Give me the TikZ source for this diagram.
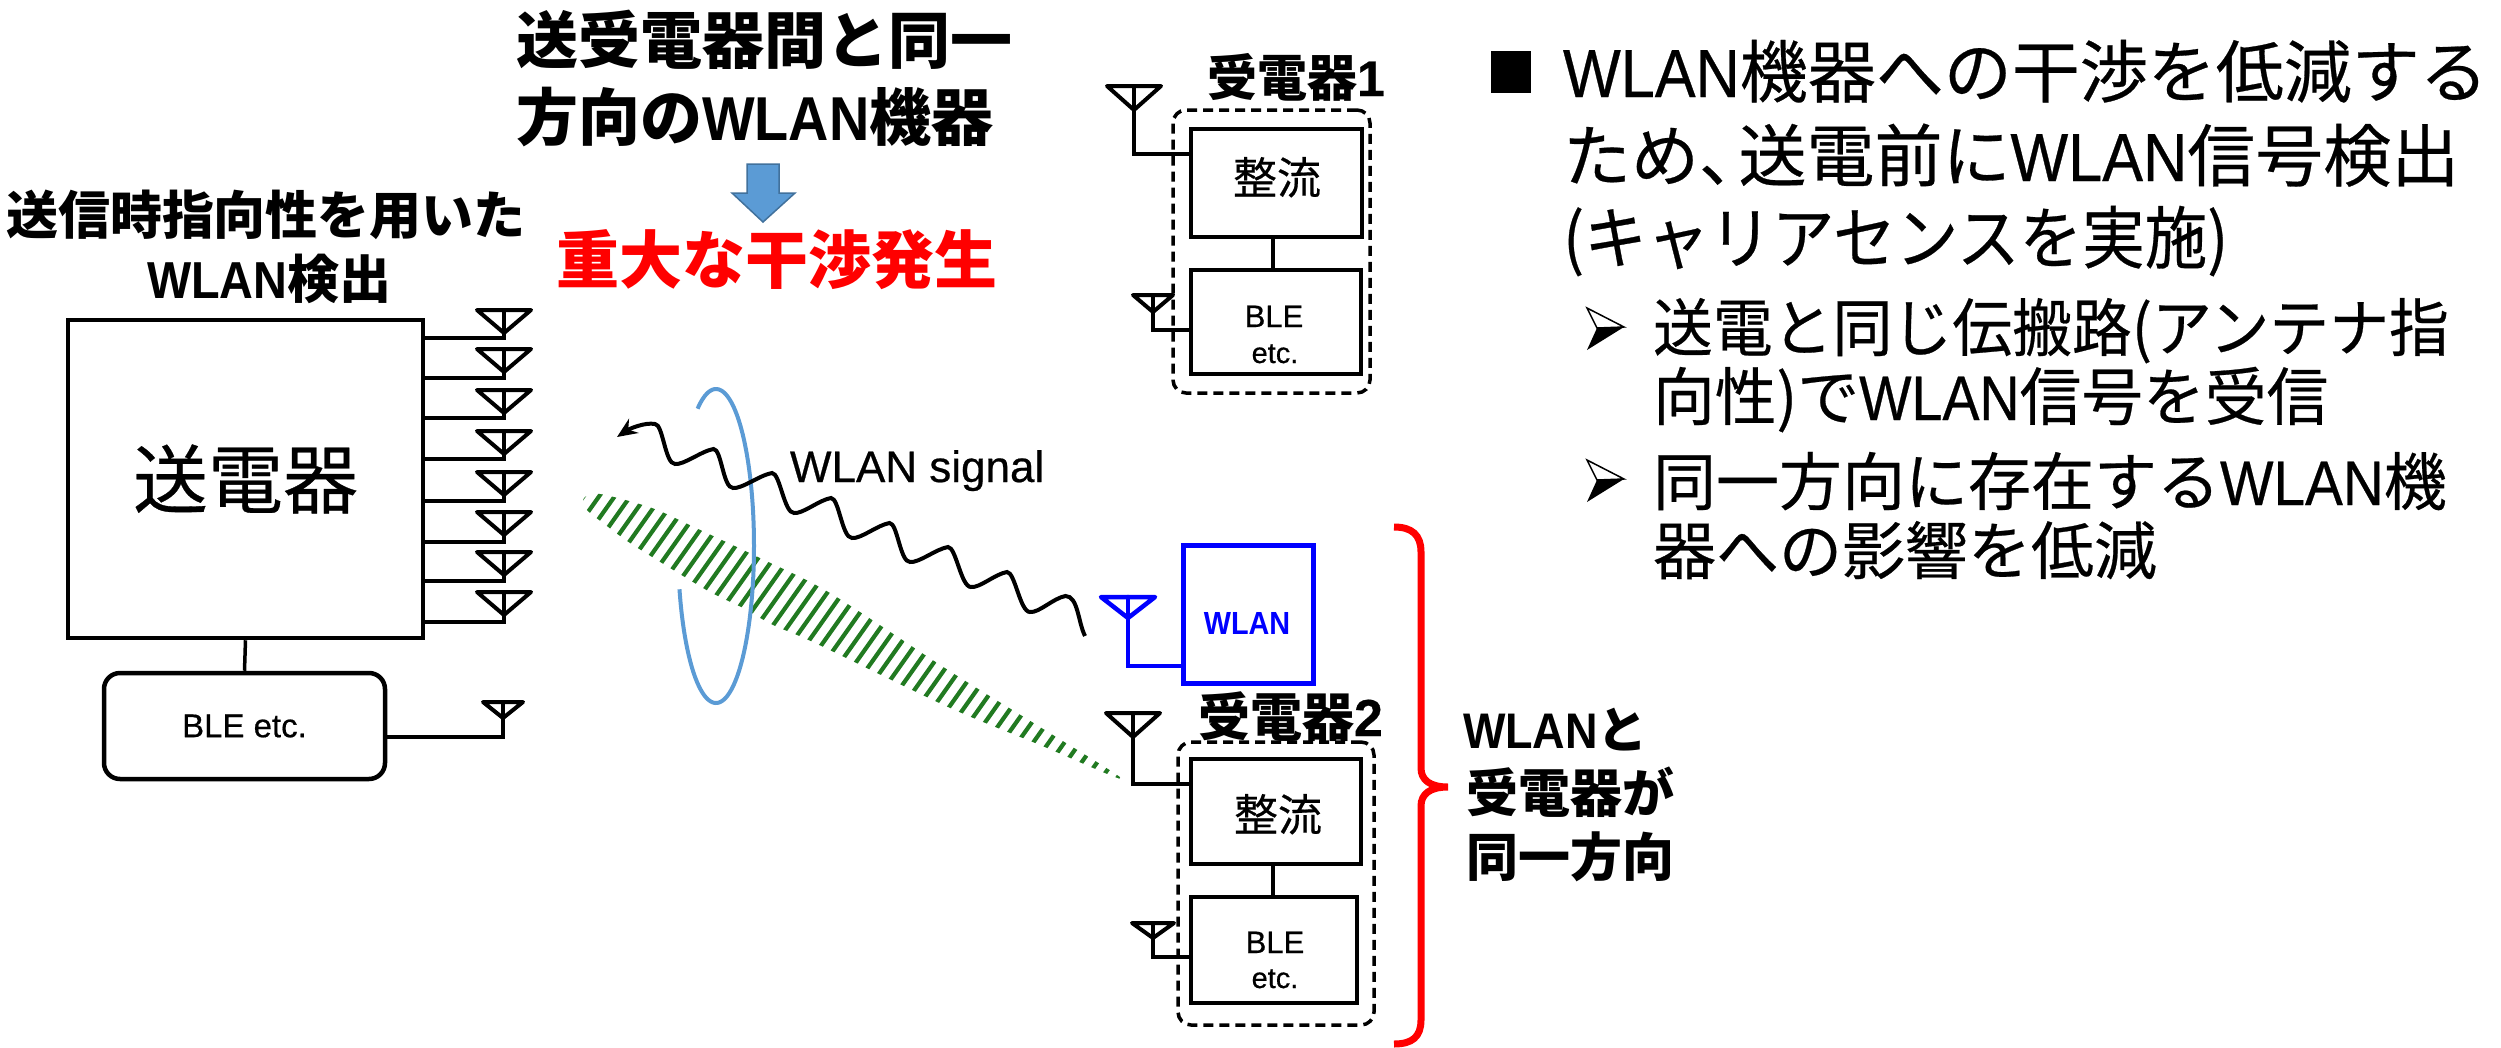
\documentclass[tikz,border=0pt]{standalone}
\usepackage{fontspec}
\usepackage{graphicx}
\setmainfont{Noto Sans CJK JP}
\newfontfamily\jp[FakeBold=0.4]{Noto Sans CJK JP}
\newfontfamily\lat[FakeStretch=0.9,FakeBold=0.4]{Liberation Sans}
\newfontfamily\latb[FakeStretch=0.9]{Liberation Sans}
\newfontfamily\latn[FakeBold=0.5]{Liberation Sans}
\usetikzlibrary{arrows.meta}
\definecolor{skyb}{HTML}{5B9BD5}
\definecolor{skyd}{HTML}{41719C}
\definecolor{hatchg}{HTML}{217A21}
\newcommand{\fz}[1]{\fontsize{#1}{#1}\selectfont}
\newcommand{\Wl}{{\lat WLAN}}
\newcommand{\Wb}{{\latb WLAN}}
\newcommand{\antenna}[6]{%
  \draw[#6] ({#2-#4},#3) -- ({#2+#4},#3) -- (#2,#5) -- cycle;
  \draw[#6] (#2,#3) -- (#2,#5);
  \coordinate (#1) at (#2,#5);}
\tikzset{
  x=1pt,y=-1pt,
  box/.style={draw=black,line width=4.5pt,fill=white,inner sep=0pt,line join=miter},
  dashbox/.style={draw=black,line width=3.5pt,rounded corners=13pt,dash pattern=on 10pt off 6pt,inner sep=0pt},
  wire/.style={draw=black,line width=3.5pt,line join=miter},
  antbig/.style={draw=black,line width=4pt,line join=round,line cap=round},
  antblue/.style={draw=blue,line width=4.5pt,line join=round,line cap=round},
  lbl/.style={anchor=base west,inner sep=0pt,outer sep=0pt,text=black},
  clbl/.style={anchor=base,inner sep=0pt,outer sep=0pt,text=black},
}
\begin{document}
\begin{tikzpicture}
\useasboundingbox[fill=white] (0,0) rectangle (2501,1047);

% heading texts
\node[lbl] (t1) at (516,63) {\fz{62}\bfseries 送受電器間と同一};
\node[lbl] (t2) at (516,140) {\fz{62}\bfseries 方向の\Wb 機器};
\draw[fill=skyb,draw=skyd,line width=1.5pt] (747,164) -- (779,164) -- (779,193) -- (795,193) -- (763,222) -- (732,193) -- (747,193) -- cycle;
\node[lbl,text=red] (t3) at (556,283) {\fz{63}\bfseries 重大な干渉発生};
\node[lbl] (t4) at (6,234) {\fz{52}\bfseries 送信時指向性を用いた};
\node[lbl] (t5) at (147,298) {\fz{52}\bfseries \Wb 検出};

% transmitter
\node[box,minimum width=355pt,minimum height=318pt] (tx) at (245.5,479) {\fz{75}\jp 送電器};
\node[box,rounded corners=16pt,minimum width=281pt,minimum height=106pt] (txb) at (244.5,726) {\fz{33}\latn BLE etc.};
\draw[wire] (tx.south) -- (txb.north);
\foreach \i/\top/\foot in {1/310/338,2/349/378,3/390/418,4/431/459,5/472/501,6/512/542,7/552/581,8/592/622}{
  \antenna{a\i}{504}{\top}{27}{\top+23}{antbig}
  \coordinate (f\i) at (504,\foot);
  \draw[wire] (a\i) -- (f\i) -- (tx.east |- f\i);
}
\antenna{ab}{503}{702}{20}{718}{antbig}
\coordinate (fb) at (503,737);
\draw[wire] (ab) -- (fb) -- (txb.east |- fb);

% hatched beam
\begin{scope}
\clip plot[smooth cycle] coordinates {(584,498) (600,494) (652,508) (696,528) (760,558) (830,593) (948,670) (1040,727) (1122,779) (1040,745) (948,707) (815,643) (773,625) (743,608) (710,592) (670,568) (630,543) (603,523) (586,509)};
\foreach \k in {0,...,48}{
  \pgfmathsetmacro{\c}{934.9+15.6*\k}
  \draw[hatchg,line width=4.2pt] ({\c-0.708*450},450) -- ({\c-0.708*830},830);
}
\end{scope}

% rotation ellipse
\draw[skyb,line width=4pt] plot[domain=241:524,samples=120] ({716+38*cos(\x)},{546+157*sin(\x)});

% WLAN signal
\coordinate (ws) at (1085,636);
\coordinate (we) at (617,437);
\draw[black,line width=4pt,-{Stealth[length=20pt,width=17pt]}] (ws)
 .. controls (1078,622) and (1078,596) .. (1065.5,596)
 .. controls +(-12,2) and +(9,1) .. (1030,612)
 .. controls +(-10,0) and +(8,0) .. (1007,572)
 .. controls +(-12,2) and +(9,1) .. (971,587)
 .. controls +(-10,0) and +(8,0) .. (948,547)
 .. controls +(-12,2) and +(9,1) .. (910,562)
 .. controls +(-10,0) and +(8,0) .. (889.5,523)
 .. controls +(-12,2) and +(9,1) .. (852,538)
 .. controls +(-10,0) and +(8,0) .. (831,498)
 .. controls +(-12,2) and +(9,1) .. (794,513)
 .. controls +(-10,0) and +(8,0) .. (772,473)
 .. controls +(-12,2) and +(9,1) .. (733,488)
 .. controls +(-10,0) and +(8,0) .. (713.5,449)
 .. controls +(-12,2) and +(9,1) .. (675,464)
 .. controls +(-10,0) and +(8,0) .. (655,424)
 .. controls +(-10,-2) and +(12,-8) .. (we);
\node[lbl] (wsig) at (790,482) {\fz{44}\latn WLAN signal};

% WLAN device
\node[box,draw=blue,line width=5pt,minimum width=130pt,minimum height=138pt] (wl) at (1248,614) {};
\node[clbl,text=blue] (wlt) at (1247,634) {\fz{32}\latb\bfseries WLAN};
\antenna{aw}{1128}{597}{27}{618}{antblue}
\coordinate (fw) at (1128,666);
\draw[blue,line width=4.5pt,line join=miter] (aw) -- (fw) -- (wl.west |- fw);

% receiver 1
\node[lbl] (r1l) at (1207,96) {\fz{50}\bfseries 受電器{\latn 1}};
\node[dashbox,minimum width=197pt,minimum height=283pt] (r1) at (1271.5,251.5) {};
\node[box,minimum width=171pt,minimum height=108pt] (r1a) at (1276.5,183) {};
\node[clbl] (r1at) at (1277,194) {\fz{44}\jp 整流};
\node[box,minimum width=170pt,minimum height=104pt] (r1b) at (1276,322) {};
\node[clbl] (r1bt) at (1274,327) {\fz{31}\latn BLE};
\node[clbl] (r1bu) at (1275,363) {\fz{29}\latn etc.};
\coordinate (c1) at (1273,237);
\draw[wire] (c1) -- (c1 |- r1b.north);
\antenna{a11}{1134}{86}{27}{110}{antbig}
\coordinate (f11) at (1134,154);
\draw[wire] (a11) -- (f11) -- (r1a.west |- f11);
\antenna{a12}{1153}{295}{20}{312}{antbig}
\coordinate (f12) at (1153,330);
\draw[wire] (a12) -- (f12) -- (r1b.west |- f12);

% receiver 2
\node[lbl] (r2l) at (1198,736) {\fz{52}\bfseries 受電器{\latn 2}};
\node[dashbox,minimum width=196pt,minimum height=283pt] (r2) at (1276,883.5) {};
\node[box,minimum width=170pt,minimum height=105pt] (r2a) at (1276,811.5) {};
\node[clbl] (r2at) at (1278,831) {\fz{44}\jp 整流};
\node[box,minimum width=166pt,minimum height=106pt] (r2b) at (1274,950) {};
\node[clbl] (r2bt) at (1275,953) {\fz{31}\latn BLE};
\node[clbl] (r2bu) at (1275,988) {\fz{29}\latn etc.};
\coordinate (c2) at (1273,864);
\draw[wire] (c2) -- (c2 |- r2b.north);
\antenna{a21}{1133}{713}{27}{737}{antbig}
\coordinate (f21) at (1133,784);
\draw[wire] (a21) -- (f21) -- (r2a.west |- f21);
\antenna{a22}{1153}{923}{21}{938}{antbig}
\coordinate (f22) at (1153,957);
\draw[wire] (a22) -- (f22) -- (r2b.west |- f22);

% brace
\draw[red,line width=7pt,line join=miter] (1394,527) .. controls (1412,527) and (1421,535) .. (1421,552) -- (1421,768) .. controls (1421,780) and (1430,787) .. (1448,787) .. controls (1430,787) and (1421,794) .. (1421,806) -- (1421,1020) .. controls (1421,1037) and (1412,1044) .. (1394,1044);
\node[lbl] (b1) at (1463,748) {\fz{50}\bfseries \Wb と};
\node[lbl] (b2) at (1466,812) {\fz{52}\bfseries 受電器が};
\node[lbl] (b3) at (1466,876) {\fz{52}\bfseries 同一方向};

% right text
\node[fill=black,inner sep=0pt,minimum width=40pt,minimum height=42pt] (sq) at (1511,72) {};
\node[lbl] (l1) at (1563,97) {\fz{68}\jp \Wl 機器への干渉を低減する};
\node[lbl] (l2) at (1563,181) {\fz{68}\jp ため、\kern-0.42em 送電前に\Wl 信号検出};
\node[lbl] (l3) at (1563,263) {\scalebox{0.92}[1]{\fz{68}\jp (キャリアセンスを実施)}};
\foreach \dy in {0,152}{
  \begin{scope}[yshift=-\dy pt]
  \draw[black,line width=1.5pt,fill=white,line join=miter] (1587,308) -- (1624,327) -- (1597,328) -- cycle;
  \fill[black] (1597,328) -- (1624,327) -- (1587,350) -- cycle;
  \end{scope}
}
\node[lbl] (s1) at (1653,351) {\scalebox{0.95}[1]{\fz{63}\jp 送電と同じ伝搬路(アンテナ指}};
\node[lbl] (s2) at (1653,420) {\scalebox{0.98}[1]{\fz{63}\jp 向性)で\Wl 信号を受信}};
\node[lbl] (s3) at (1653,505) {\fz{63}\jp 同一方向に存在する\Wl 機};
\node[lbl] (s4) at (1653,574) {\fz{63}\jp 器への影響を低減};
\end{tikzpicture}
\end{document}
